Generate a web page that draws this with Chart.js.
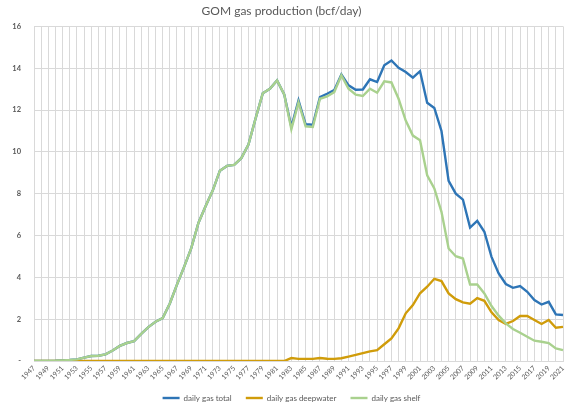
<!DOCTYPE html>
<html>
<head>
<meta charset="utf-8">
<script src="https://cdn.jsdelivr.net/npm/chart.js@4.4.1/dist/chart.umd.min.js"></script>
<style>
  body { margin: 0; background: #fff; }
  #wrap { width: 579px; height: 403px; }
</style>
</head>
<body>
<div id="wrap"><canvas id="gomChart"></canvas></div>
<script>
const years = [
  '1947', '1948', '1949', '1950', '1951', '1952', '1953', '1954', '1955', '1956',
  '1957', '1958', '1959', '1960', '1961', '1962', '1963', '1964', '1965', '1966',
  '1967', '1968', '1969', '1970', '1971', '1972', '1973', '1974', '1975', '1976',
  '1977', '1978', '1979', '1980', '1981', '1982', '1983', '1984', '1985', '1986',
  '1987', '1988', '1989', '1990', '1991', '1992', '1993', '1994', '1995', '1996',
  '1997', '1998', '1999', '2000', '2001', '2002', '2003', '2004', '2005', '2006',
  '2007', '2008', '2009', '2010', '2011', '2012', '2013', '2014', '2015', '2016',
  '2017', '2018', '2019', '2020', '2021'
]

const gasTotal = [
  0, 0, 0, 0.01, 0.03, 0.05, 0.08, 0.16, 0.24, 0.25,
  0.32, 0.5, 0.72, 0.86, 0.95, 1.3, 1.62, 1.88, 2.05, 2.75,
  3.65, 4.5, 5.4, 6.6, 7.4, 8.15, 9.1, 9.33, 9.38, 9.7,
  10.35, 11.6, 12.8, 13.02, 13.42, 12.75, 11.2, 12.46, 11.32, 11.3,
  12.62, 12.78, 12.95, 13.7, 13.18, 12.97, 12.98, 13.47, 13.34, 14.14,
  14.37, 14.02, 13.82, 13.55, 13.86, 12.35, 12.1, 11.0, 8.61, 8.0,
  7.72, 6.38, 6.7, 6.18, 4.98, 4.19, 3.68, 3.5, 3.58, 3.31,
  2.91, 2.7, 2.83, 2.23, 2.2
]

const gasDeepwater = [
  0, 0, 0, 0, 0, 0, 0, 0, 0, 0,
  0, 0, 0, 0, 0, 0, 0, 0, 0, 0,
  0, 0, 0, 0, 0, 0, 0, 0, 0, 0,
  0, 0, 0, 0, 0, 0, 0.14, 0.1, 0.1, 0.1,
  0.14, 0.11, 0.1, 0.13, 0.21, 0.29, 0.38, 0.46, 0.52, 0.8,
  1.08, 1.56, 2.28, 2.67, 3.24, 3.55, 3.93, 3.82, 3.23, 2.96,
  2.8, 2.74, 3.01, 2.88, 2.33, 1.96, 1.77, 1.91, 2.15, 2.15,
  1.96, 1.77, 1.96, 1.59, 1.63
]

const gasShelf = [
  0, 0, 0, 0.01, 0.03, 0.05, 0.08, 0.16, 0.24, 0.25,
  0.32, 0.5, 0.72, 0.86, 0.95, 1.3, 1.62, 1.88, 2.05, 2.75,
  3.65, 4.5, 5.4, 6.6, 7.4, 8.15, 9.1, 9.33, 9.38, 9.7,
  10.35, 11.6, 12.8, 13.02, 13.42, 12.75, 11.08, 12.36, 11.22, 11.19,
  12.54, 12.65, 12.86, 13.66, 13.02, 12.74, 12.67, 13.02, 12.83, 13.37,
  13.32, 12.54, 11.5, 10.78, 10.56, 8.88, 8.25, 7.13, 5.38, 5.01,
  4.9, 3.66, 3.66, 3.23, 2.63, 2.17, 1.8, 1.53, 1.35, 1.16,
  0.97, 0.92, 0.86, 0.6, 0.52
]

const yTickLabels = ['-', '2', '4', '6', '8', '10', '12', '14', '16']

const textGrey = '#595959'
const gridGrey = '#d9d9d9'
const baseFont = 'Lato, "Open Sans", sans-serif'

const whiteBg = {
  id: 'whiteBg',
  beforeDraw (chart) {
    const c = chart.ctx
    c.save()
    c.fillStyle = '#fff'
    c.fillRect(0, 0, chart.width, chart.height)
    c.restore()
  }
}

// legend is centred on the whole canvas, not on the padded layout area
const centreLegend = {
  id: 'centreLegend',
  afterLayout (chart) {
    const lg = chart.legend
    if (!lg) return
    lg.left += 10
    lg.right += 10
  }
}

// shelf is drawn last (on top), like the Excel original
const line = (label, data, color, order) => ({
  label,
  data,
  order,
  borderColor: color,
  backgroundColor: color,
  borderWidth: 2.4,
  pointRadius: 0,
  tension: 0,
  fill: false
})

new Chart(document.getElementById('gomChart'), {
  type: 'line',
  data: {
    labels: years,
    datasets: [
      line('daily gas total', gasTotal, '#2e75b6', 3),
      line('daily gas deepwater', gasDeepwater, '#d09c0a', 2),
      line('daily gas shelf', gasShelf, '#a9d18e', 1)
    ]
  },
  options: {
    responsive: true,
    maintainAspectRatio: false,
    animation: false,
    layout: { padding: { left: 0, right: 16, top: 2, bottom: -9 } },
    plugins: {
      title: {
        display: true,
        text: 'GOM gas production (bcf/day)',
        color: textGrey,
        font: { family: baseFont, size: 12, weight: 'normal' },
        padding: { top: 2, bottom: 8 }
      },
      legend: {
        position: 'bottom',
        labels: {
          color: textGrey,
          font: { family: baseFont, size: 8 },
          usePointStyle: true,
          pointStyle: 'line',
          pointStyleWidth: 17,
          boxHeight: 8,
          padding: 10,
          // a little extra room between entries without a taller legend
          generateLabels (chart) {
            const items = Chart.defaults.plugins.legend.labels.generateLabels(chart)
            items.sort((a, b) => a.datasetIndex - b.datasetIndex)
            items.forEach((it, i) => {
              if (i < items.length - 1) it.text += '  '
            })
            return items
          }
        }
      },
      tooltip: { enabled: false }
    },
    scales: {
      x: {
        offset: false,
        grid: { color: gridGrey, lineWidth: 1, drawTicks: false },
        border: { color: gridGrey },
        ticks: {
          autoSkip: false,
          maxRotation: 45,
          minRotation: 45,
          padding: 3,
          color: textGrey,
          font: { family: baseFont, size: 7 },
          callback (value, index) {
            return index % 2 === 0 ? years[index] : ''
          }
        },
        afterFit (axis) { axis.height = 23 }
      },
      y: {
        min: 0,
        max: 16,
        grid: { color: gridGrey, lineWidth: 1, drawTicks: false },
        border: { display: false },
        ticks: {
          stepSize: 2,
          padding: 13,
          color: textGrey,
          font: { family: baseFont, size: 7.5, weight: 'bold' },
          callback (value) {
            return yTickLabels[value / 2]
          }
        },
        afterFit (axis) { axis.width = 34 }
      }
    }
  },
  plugins: [whiteBg, centreLegend]
})
</script>
</body>
</html>
